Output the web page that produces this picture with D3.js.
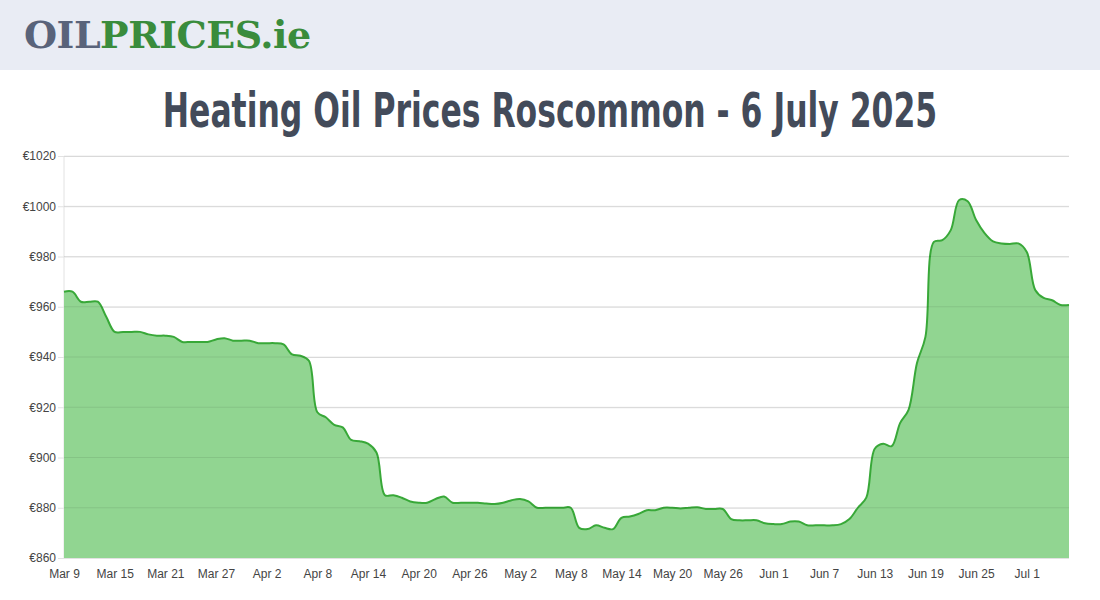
<!DOCTYPE html>
<html lang="en">
<head>
<meta charset="UTF-8">
<title>Heating Oil Prices Roscommon</title>
<script src="https://d3js.org/d3.v7.min.js"></script>
<style>
    body { margin: 0; background: #fff; font-family: "Liberation Sans", Arial, sans-serif; overflow: hidden; }
    .header { height: 70px; background: #e9ecf4; box-shadow: 0 2px 6px rgba(0,0,0,0.08); }
    .logo { position: absolute; left: 24px; top: 12px; font-family: "DejaVu Serif", serif; font-weight: bold; font-size: 38px; letter-spacing: -0.5px; }
    .logo .a { color: #59637a; }
    .logo .b { color: #3a8c3c; }
    h1 { margin: 0; position: absolute; top: 82px; left: -200px; width: 1500px; white-space: nowrap; text-align: center; font-family: "DejaVu Sans", sans-serif; font-weight: bold; font-size: 48px; color: #434b5a; transform: scaleX(0.655); }
    svg { position: absolute; left: 0; top: 0; }
    .grid line { stroke: #e2e2e2; }
    .grid path { display: none; }
    .tick text { fill: #444; font-size: 12px; }
</style>
</head>
<body>
<div class="header"><div class="logo"><span class="a">OIL</span><span class="b">PRICES.ie</span></div></div>
<h1>Heating Oil Prices Roscommon - 6 July 2025</h1>
<svg width="1100" height="600"></svg>
<script>
    // daily prices from Mar 9 to Jul 6 2025
    const startDate = new Date(2025, 2, 9);
    const prices = [
        966, 966, 962, 962, 962, 956, 950, 950, 950, 950,
        949, 948.5, 948.5, 948, 946, 946, 946, 946, 947, 947.5,
        946.5, 946.5, 946.5, 945.5, 945.5, 945.5, 945, 941, 940.5, 938.5,
        918, 916, 913, 912, 907, 906.5, 905.5, 902, 885, 885,
        884, 882.5, 882, 882, 883.5, 884.5, 882, 882, 882, 882,
        881.7, 881.5, 882, 883, 883.5, 882.5, 880, 880, 880, 880,
        880, 872, 871.5, 873, 872, 871.5, 876, 876.5, 877.5, 879,
        879, 880, 880, 879.7, 880, 880.2, 879.5, 879.5, 879.5, 875.5,
        875, 875, 875, 873.8, 873.5, 873.5, 874.5, 874.5, 873, 873,
        873, 873, 873.5, 875.5, 880, 884, 903.5, 905.5, 904.5, 913.7,
        919, 937.6, 948, 985.8, 986.5, 990.5, 1002.5, 1002, 994.5, 989.3,
        986, 985.2, 985, 985.2, 981.8, 966.7, 963.5, 962.6, 960.7, 960.7
    ];
    const yTicks = [860, 880, 900, 920, 940, 960, 980, 1000, 1020];
    const xTickLabels = ["Mar 9", "Mar 15", "Mar 21", "Mar 27", "Apr 2", "Apr 8", "Apr 14", "Apr 20", "Apr 26",
        "May 2", "May 8", "May 14", "May 20", "May 26", "Jun 1", "Jun 7", "Jun 13", "Jun 19", "Jun 25", "Jul 1"];

    const data = prices.map((p, i) => ({ date: d3.timeDay.offset(startDate, i), price: p }));
    const tickDates = xTickLabels.map((_, i) => d3.timeDay.offset(startDate, i * 6));

    const svg = d3.select("svg");
    const x = d3.scaleTime()
        .domain([startDate, d3.timeDay.offset(startDate, prices.length - 1)])
        .range([64, 1069]);
    const y = d3.scaleLinear().domain([860, 1020]).range([558, 156]);

    svg.append("g").attr("class", "grid")
        .attr("transform", "translate(64,0)")
        .call(d3.axisLeft(y).tickValues(yTicks).tickSize(-1005).tickPadding(8).tickFormat(d => "€" + d))
        .call(g => g.selectAll(".tick line").attr("x1", -6));

    svg.append("line").attr("x1", 64).attr("x2", 64).attr("y1", 156).attr("y2", 558).attr("stroke", "#e2e2e2");

    const curve = d3.curveCatmullRom.alpha(0.5);
    svg.append("path").datum(data)
        .attr("fill", "#91d591")
        .attr("d", d3.area().x(d => x(d.date)).y0(y(860)).y1(d => y(d.price)).curve(curve));

    svg.append("path").datum(data)
        .attr("fill", "none").attr("stroke", "#38a838").attr("stroke-width", 2)
        .attr("d", d3.line().x(d => x(d.date)).y(d => y(d.price)).curve(curve));

    // grid lines show faintly through the area
    svg.append("g").selectAll("line").data(yTicks.slice(1)).join("line")
        .attr("x1", 64).attr("x2", 1069).attr("y1", d => y(d)).attr("y2", d => y(d))
        .attr("stroke", "rgba(0,0,0,0.08)");

    svg.append("g").attr("class", "grid")
        .attr("transform", "translate(0,558)")
        .call(d3.axisBottom(x).tickValues(tickDates).tickSize(0).tickPadding(11)
            .tickFormat((d, i) => xTickLabels[i]));
</script>
</body>
</html>
